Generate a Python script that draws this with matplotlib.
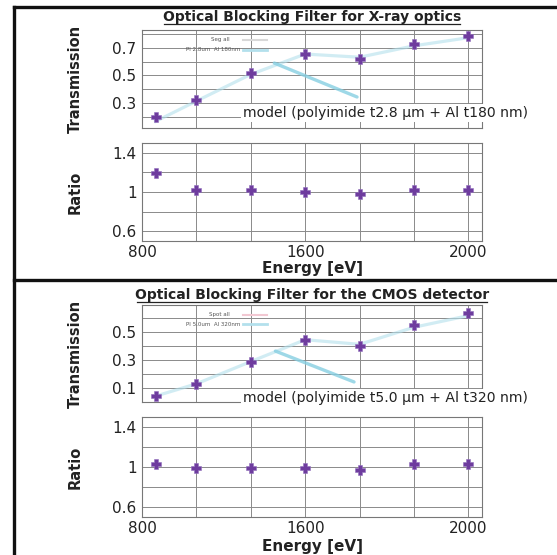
import matplotlib
matplotlib.use("Agg")
import matplotlib.pyplot as plt
from matplotlib.lines import Line2D

plt.rcParams["font.family"] = ["DejaVu Sans"]

# energies of the measured points [eV]
energy = [850, 1000, 1200, 1400, 1600, 1800, 2000]

# X-ray optics filter (polyimide 2.8 um + Al 180 nm)
xrt_trans = [0.198, 0.32, 0.518, 0.656, 0.62, 0.73, 0.79]
xrt_model = [0.166, 0.314, 0.508, 0.656, 0.633, 0.716, 0.775]
xrt_ratio = [1.195, 1.02, 1.02, 1.0, 0.98, 1.02, 1.02]

# CMOS detector filter (polyimide 5.0 um + Al 320 nm)
cmos_trans = [0.043, 0.129, 0.286, 0.443, 0.40, 0.55, 0.636]
cmos_model = [0.042, 0.13, 0.289, 0.445, 0.412, 0.534, 0.617]
cmos_ratio = [1.03, 0.99, 0.99, 0.995, 0.97, 1.03, 1.03]

grid_energy = [800, 1000, 1200, 1400, 1600, 1800, 2000]
xtick_labels = ["800", "", "", "1600", "", "", "2000"]

panels = [
    dict(title="Optical Blocking Filter for X-ray optics",
         trans=xrt_trans, model=xrt_model, ratio=xrt_ratio,
         ylim=(0.118, 0.831), yticks=[0.3, 0.5, 0.7], ygrid=[0.2, 0.3, 0.4, 0.5, 0.6, 0.7, 0.8],
         note="model (polyimide t2.8 μm + Al t180 nm)", note_y=0.227,
         leg_top="Seg all", leg_bot="PI 2.8um  Al 180nm", leg_top_color="#d8d8d8",
         pointer=((1277, 0.598), (1600, 0.336)),
         y0=30, y1=128, r0=143, r1=241, title_y=17, tick_y=250, xlab_y=268),
    dict(title="Optical Blocking Filter for the CMOS detector",
         trans=cmos_trans, model=cmos_model, ratio=cmos_ratio,
         ylim=(0.0, 0.693), yticks=[0.1, 0.3, 0.5], ygrid=[0.1, 0.2, 0.3, 0.4, 0.5, 0.6],
         note="model (polyimide t5.0 μm + Al t320 nm)", note_y=0.029,
         leg_top="Spot all", leg_bot="PI 5.0um  Al 320nm", leg_top_color="#f2c8d2",
         pointer=((1281, 0.371), (1589, 0.136)),
         y0=305, y1=402, r0=417, r1=517, title_y=295, tick_y=528, xlab_y=546),
]

W, H = 557, 555
fig = plt.figure(figsize=(W / 100, H / 100), dpi=100)

AX_L, AX_R = 142, 482
PURPLE = "#6e3c9e"
MODEL_C = "#b3e0ec"
POINTER_C = "#86cfe2"
GRID_C = "#8a8a8a"


def frac_box(top, bottom):
    return [AX_L / W, 1 - bottom / H, (AX_R - AX_L) / W, (bottom - top) / H]


def style(ax):
    ax.set_xlim(800, 2050)
    ax.set_xticks(grid_energy)
    ax.grid(True, color=GRID_C, linewidth=0.7)
    ax.tick_params(length=0, labelsize=11, colors="#222222", pad=4)
    for sp in ax.spines.values():
        sp.set_color("#777777")
        sp.set_linewidth(0.8)
    ax.set_axisbelow(True)


for p in panels:
    ax = fig.add_axes(frac_box(p["y0"], p["y1"]))
    style(ax)
    ax.set_ylim(*p["ylim"])
    ax.set_yticks(p["ygrid"])
    ax.set_yticklabels([f"{v:g}" if any(abs(v - t) < 1e-9 for t in p["yticks"]) else "" for v in p["ygrid"]])
    ax.set_xticklabels([])
    ax.plot(energy, p["model"], color=MODEL_C, lw=2.3, alpha=0.6, zorder=2)
    ax.annotate("", xy=p["pointer"][0], xytext=p["pointer"][1],
                arrowprops=dict(arrowstyle="-", color=POINTER_C, lw=2.4, alpha=0.8), zorder=3)
    ax.plot(energy, p["trans"], ls="none", marker="P", ms=7, color=PURPLE, mec="#9270bd", mew=0.4, zorder=5)
    ax.text(1172, p["note_y"], p["note"], fontsize=10.1, color="#222222", ha="left", va="center",
            clip_on=False, zorder=6, bbox=dict(facecolor="white", edgecolor="none", pad=1.5))
    ax.set_ylabel("Transmission", fontsize=10.5, fontweight="bold", color="#222222")
    ax.yaxis.set_label_coords(-0.174, 0.5)
    # tiny legend
    ax.text(0.229, 0.90, p["leg_top"], transform=ax.transAxes, fontsize=4, color="#555555", ha="center", va="center")
    ax.text(0.288, 0.80, p["leg_bot"], transform=ax.transAxes, fontsize=4, color="#555555", ha="right", va="center")
    ax.plot([0.297, 0.368], [0.90, 0.90], transform=ax.transAxes, color=p["leg_top_color"], lw=1.5)
    ax.plot([0.297, 0.368], [0.80, 0.80], transform=ax.transAxes, color=MODEL_C, lw=2)

    axr = fig.add_axes(frac_box(p["r0"], p["r1"]))
    style(axr)
    axr.set_ylim(0.5, 1.5)
    axr.set_yticks([0.6, 0.8, 1.0, 1.2, 1.4])
    axr.set_yticklabels(["0.6", "", "1", "", "1.4"])
    axr.set_xticklabels(xtick_labels)
    axr.tick_params(axis="x", pad=3)
    axr.plot(energy, p["ratio"], ls="none", marker="P", ms=7, color=PURPLE, mec="#9270bd", mew=0.4, zorder=5)
    axr.set_ylabel("Ratio", fontsize=10.5, fontweight="bold", color="#222222")
    axr.yaxis.set_label_coords(-0.174, 0.5)

    fig.text(312 / W, 1 - p["title_y"] / H, p["title"], fontsize=10, fontweight="bold",
             color="#222222", ha="center", va="center")
    fig.text(312 / W, 1 - p["xlab_y"] / H, "Energy [eV]", fontsize=11, fontweight="bold",
             color="#222222", ha="center", va="center")

# underline the titles
for p, half in zip(panels, [296, 350]):
    yy = 1 - (p["title_y"] + 7) / H
    fig.add_artist(Line2D([(312 - half / 2) / W, (312 + half / 2) / W], [yy, yy],
                          color="#222222", lw=0.9))

# black frames around the two halves
FRAME = dict(color="#111111", lw=2.4)
fig.add_artist(Line2D([14 / W, 1.0], [1 - 7 / H, 1 - 7 / H], **FRAME))
fig.add_artist(Line2D([14 / W, 1.0], [1 - 280 / H, 1 - 280 / H], **FRAME))
fig.add_artist(Line2D([14 / W, 14 / W], [0.0, 1 - 7 / H], **FRAME))

fig.savefig("out.png", dpi=100, facecolor="white")
